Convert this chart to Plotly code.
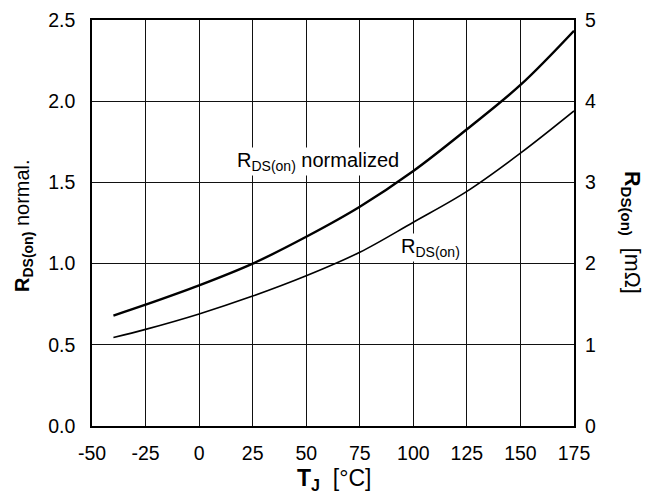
import plotly.graph_objects as go

# Data
tj = [-40, -25, 0, 25, 50, 75, 100, 125, 150, 175]
rds_norm = [0.68, 0.747, 0.866, 1.0, 1.165, 1.35, 1.57, 1.827, 2.10, 2.434]
rds_mohm = [1.09, 1.19, 1.38, 1.60, 1.85, 2.14, 2.51, 2.89, 3.36, 3.88]

x_ticks = [-50, -25, 0, 25, 50, 75, 100, 125, 150, 175]
x_ticklabels = ["-50", "-25", "0", "25", "50", "75", "100", "125", "150", "175"]
y_ticks = [0.0, 0.5, 1.0, 1.5, 2.0, 2.5]
y_ticklabels = ["0.0", "0.5", "1.0", "1.5", "2.0", "2.5"]
y2_ticks = [0, 1, 2, 3, 4, 5]

FONT = "Liberation Sans, Arial, sans-serif"
OFF = 8  # page body margin of the browser
W, H = 650 - OFF, 496 - OFF
L, T = 92 - OFF, 20 - OFF
R = W - (574 - OFF)
B = H - (426 - OFF)

fig = go.Figure()
fig.add_trace(go.Scatter(x=tj, y=rds_norm, mode="lines", line=dict(color="black", width=2.4, shape="spline"),
                         showlegend=False, yaxis="y"))
fig.add_trace(go.Scatter(x=tj, y=rds_mohm, mode="lines", line=dict(color="black", width=1.6, shape="spline"),
                         showlegend=False, yaxis="y2"))

pw = W - L - R
ph = H - T - B


def px(xp):
    # page pixel -> paper coordinate
    return (xp - OFF - L) / pw


def py(yp):
    return (H - B - (yp - OFF)) / ph


TICK = 19.5
fig.update_layout(
    width=W, height=H,
    margin=dict(l=L, r=R, t=T, b=B, autoexpand=False),
    paper_bgcolor="white", plot_bgcolor="white",
    font=dict(family=FONT, color="black", size=TICK),
    xaxis=dict(range=[-50, 175], tickvals=x_ticks, ticktext=x_ticklabels, showgrid=True, gridcolor="#111",
               gridwidth=1, showline=True, linecolor="black", linewidth=1.5, mirror=True, ticks="",
               zeroline=False, automargin=False, tickfont=dict(size=TICK), ticklabelstandoff=9),
    yaxis=dict(range=[0, 2.5], tickvals=y_ticks, ticktext=y_ticklabels, showgrid=True, gridcolor="#111",
               gridwidth=1, showline=True, linecolor="black", linewidth=1.5, mirror=True, ticks="",
               zeroline=False, automargin=False, tickfont=dict(size=TICK), ticklabelstandoff=11),
    yaxis2=dict(range=[0, 5], tickvals=y2_ticks, overlaying="y", side="right", showgrid=False,
                showline=False, ticks="", zeroline=False, automargin=False, tickfont=dict(size=TICK),
                ticklabelstandoff=10),
    annotations=[
        dict(x=55.4, y=1.63, xref="x", yref="y", text="R<sub>DS(on)</sub> normalized", showarrow=False,
             font=dict(size=20), bgcolor="white", borderpad=1),
        dict(x=108, y=1.10, xref="x", yref="y", text="R<sub>DS(on)</sub>", showarrow=False,
             font=dict(size=20), bgcolor="white", borderpad=1),
        dict(x=px(334), y=py(479), xref="paper", yref="paper", xanchor="center", yanchor="middle",
             text="<b>T<sub>J</sub></b>&nbsp;&nbsp;[°C]", showarrow=False, font=dict(size=23)),
        dict(x=px(24), y=py(226), xref="paper", yref="paper", xanchor="center", yanchor="middle",
             text="<b>R<sub>DS(on)</sub></b> normal.", showarrow=False, textangle=-90,
             font=dict(size=20)),
        dict(x=px(631), y=py(232), xref="paper", yref="paper", xanchor="center", yanchor="middle",
             text="<b>R<sub>DS(on)</sub></b>&nbsp;&nbsp;[mΩ]",
             showarrow=False, textangle=90, font=dict(size=21.5)),
    ],
)

fig.write_html("out.html")
